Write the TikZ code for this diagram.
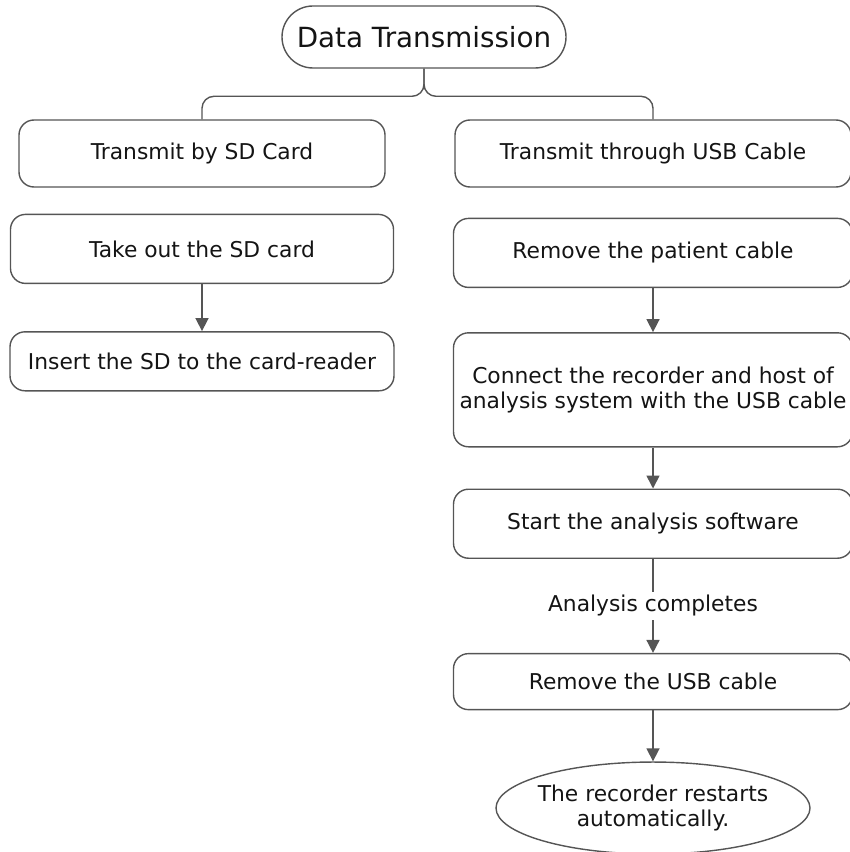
\documentclass[tikz,border=0pt]{standalone}
\usepackage{fontspec}
\setmainfont{DejaVu Sans}
\usepackage{xcolor}
\usepackage{tikz}
\usetikzlibrary{arrows.meta, positioning, shapes.geometric, calc}
\definecolor{DTLine}{RGB}{85,85,85}
\definecolor{DTText}{RGB}{20,20,20}
\tikzset{
  stepbox/.style={rectangle, rounded corners=0.3cm, draw=DTLine, line width=0.8pt,
    inner sep=0pt, align=center, text=DTText, font=\fontsize{12.4}{14}\selectfont},
  titlebox/.style={rectangle, rounded corners=0.62cm, draw=DTLine, line width=0.8pt,
    inner sep=0pt, minimum width=5.68cm, minimum height=1.24cm, text=DTText,
    font=\fontsize{15.8}{18}\selectfont},
  endbox/.style={ellipse, draw=DTLine, line width=0.8pt, inner xsep=-0.15cm, inner ysep=0pt,
    minimum width=6.28cm, minimum height=1.84cm, align=center, text=DTText,
    font=\fontsize{12.4}{14}\selectfont},
  arrow/.style={-{Triangle[length=0.26cm, width=0.26cm]}, line width=0.9pt, draw=DTLine},
  branch/.style={line width=0.8pt, draw=DTLine, rounded corners=0.24cm}
}
\begin{document}
\begin{tikzpicture}
  \useasboundingbox (0,0) rectangle (16.98,-17.04);
  \node[titlebox] (title) at (8.48,-0.74) {Data Transmission};

  \node[stepbox, minimum width=7.32cm, minimum height=1.34cm] (sd) at (4.04,-3.07) {Transmit by SD Card};
  \node[stepbox, below=0.52cm of sd, minimum width=7.66cm, minimum height=1.38cm] (take) {Take out the SD card};
  \node[stepbox, below=0.94cm of take, minimum width=7.68cm, minimum height=1.18cm] (insert) {Insert the SD to the card-reader};

  \node[stepbox, minimum width=7.92cm, minimum height=1.34cm] (usb) at (13.06,-3.07) {Transmit through USB Cable};
  \node[stepbox, below=0.6cm of usb, minimum width=7.98cm, minimum height=1.38cm] (patient) {Remove the patient cable};
  \node[stepbox, below=0.88cm of patient, minimum width=7.98cm, minimum height=2.28cm] (connect) {Connect the recorder and host of\\analysis system with the USB cable};
  \node[stepbox, below=0.82cm of connect, minimum width=7.98cm, minimum height=1.38cm] (start) {Start the analysis software};
  \node[stepbox, below=1.88cm of start, minimum width=7.98cm, minimum height=1.12cm] (unplug) {Remove the USB cable};
  \node[endbox, below=1.02cm of unplug] (restart) {The recorder restarts\\automatically.};

  \draw[branch] (title.south) |- ([yshift=0.46cm]sd.north) -- (sd.north);
  \draw[branch] (title.south) |- ([yshift=0.46cm]usb.north) -- (usb.north);

  \draw[arrow] (take) -- (insert);
  \draw[arrow] (patient) -- (connect);
  \draw[arrow] (connect) -- (start);
  \draw[arrow] (start) -- node[fill=white, inner sep=2pt, text=DTText,
    font=\fontsize{12.4}{14}\selectfont] (done) {Analysis completes} (unplug);
  \draw[arrow] (unplug) -- (restart);
\end{tikzpicture}
\end{document}
